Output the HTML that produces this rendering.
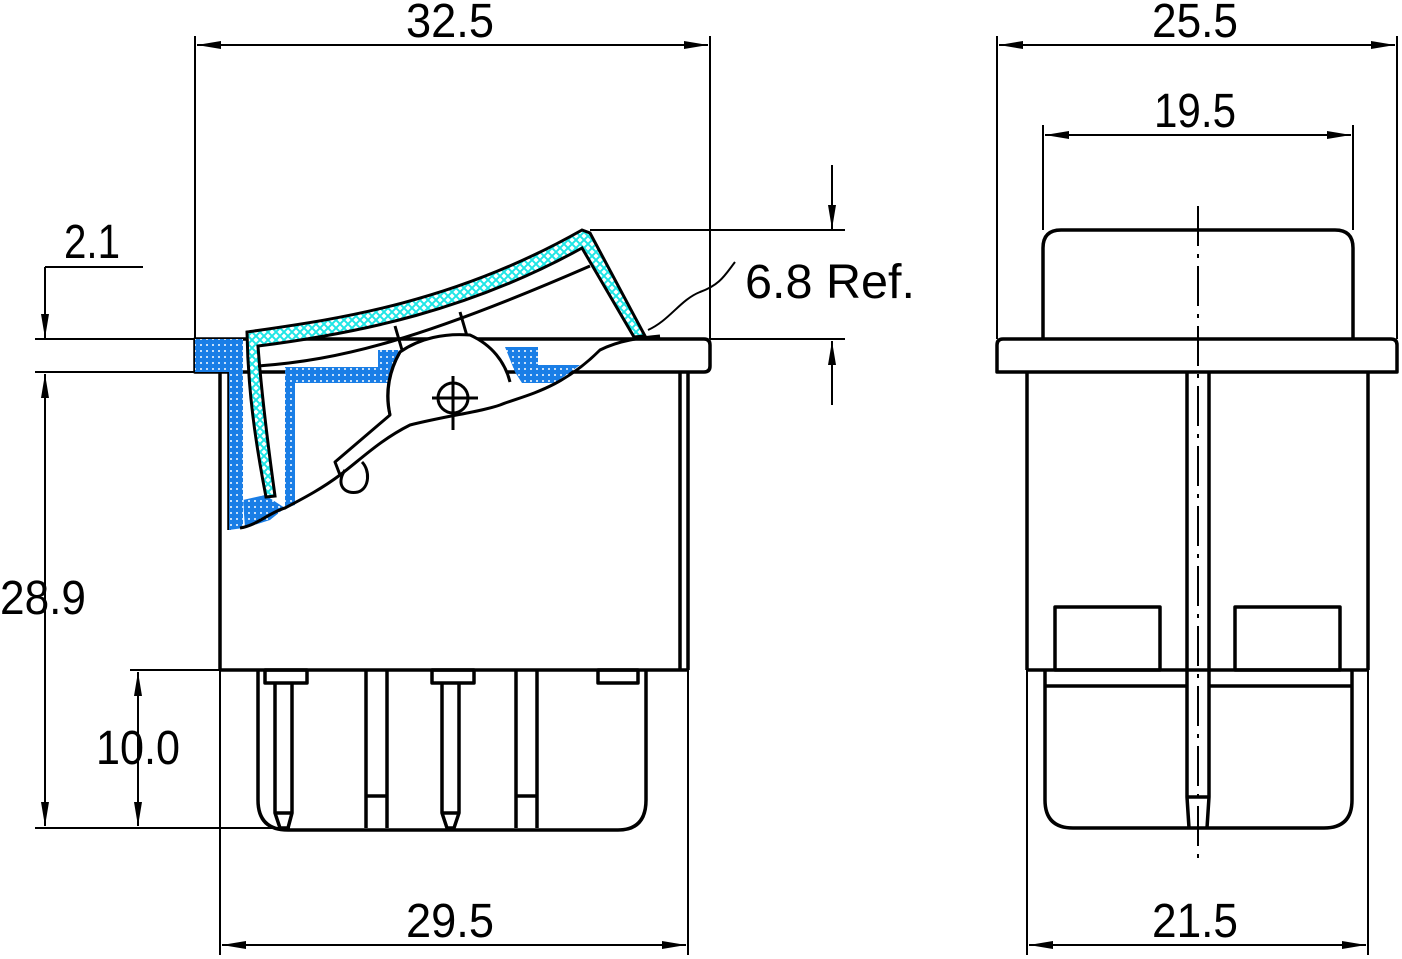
<!DOCTYPE html>
<html><head><meta charset="utf-8"><style>
html,body{margin:0;padding:0;background:#fff;}
svg{display:block;}
text{font-family:"Liberation Sans",sans-serif;font-size:48px;fill:#000;}
</style></head><body>
<svg width="1402" height="959" viewBox="0 0 1402 959" xmlns="http://www.w3.org/2000/svg">
<defs>
<marker id="a" viewBox="0 0 24 8" refX="24" refY="4" markerWidth="24" markerHeight="8" markerUnits="userSpaceOnUse" orient="auto-start-reverse"><path d="M0,0 L24,4 L0,8 Z" fill="#000"/></marker>
<pattern id="dots" width="6" height="6" patternUnits="userSpaceOnUse"><rect width="6" height="6" fill="#1a7ee6"/><circle cx="3" cy="3" r="1" fill="#fff"/></pattern>
<pattern id="hatch" width="8" height="8" patternUnits="userSpaceOnUse"><rect width="8" height="8" fill="#fff"/><path d="M0,0 L8,8 M8,0 L0,8" stroke="#1fe6e6" stroke-width="2"/></pattern>
</defs>
<g fill="none" stroke="#000" stroke-width="2">
<line x1="195" y1="36" x2="195" y2="339"/>
<line x1="710" y1="36" x2="710" y2="339"/>
<line x1="197" y1="45" x2="708" y2="45" marker-start="url(#a)" marker-end="url(#a)"/>
<line x1="35" y1="339" x2="195" y2="339"/>
<line x1="35" y1="372" x2="195" y2="372"/>
<line x1="45" y1="267" x2="143" y2="267"/>
<line x1="45" y1="267" x2="45" y2="338" marker-end="url(#a)"/>
<line x1="45" y1="374" x2="45" y2="826" marker-start="url(#a)" marker-end="url(#a)"/>
<line x1="35" y1="828" x2="290" y2="828"/>
<line x1="130" y1="670" x2="220" y2="670"/>
<line x1="138" y1="672" x2="138" y2="826" marker-start="url(#a)" marker-end="url(#a)"/>
<line x1="220" y1="670" x2="220" y2="955"/>
<line x1="688" y1="670" x2="688" y2="955"/>
<line x1="222" y1="945" x2="686" y2="945" marker-start="url(#a)" marker-end="url(#a)"/>
<line x1="590" y1="230" x2="845" y2="230"/>
<line x1="710" y1="339" x2="845" y2="339"/>
<line x1="832" y1="165" x2="832" y2="229" marker-end="url(#a)"/>
<line x1="832" y1="405" x2="832" y2="341" marker-end="url(#a)"/>
<path d="M648,330 C670,320 680,300 700,292 C720,285 725,275 735,262"/>
</g>
<g fill="none" stroke="#000" stroke-width="3.5" stroke-linejoin="round">
<path d="M195,339 H704 Q710,339 710,345 V366 Q710,372 704,372 H195 Z" fill="#fff"/>
<line x1="220" y1="372" x2="220" y2="670"/>
<line x1="229" y1="372" x2="229" y2="530"/>
<line x1="680" y1="372" x2="680" y2="670"/>
<line x1="688" y1="372" x2="688" y2="670"/>
<line x1="220" y1="670" x2="688" y2="670"/>
<path d="M258,670 V800 Q258,830 288,830 H618 Q646,830 646,800 V670"/>
<rect x="265" y="670" width="42" height="13"/>
<path d="M275,683 V813 L280,828 H288 L292,813 V683"/>
<line x1="275" y1="813" x2="292" y2="813"/>
<rect x="432" y="670" width="42" height="13"/>
<path d="M442,683 V813 L447,828 H454 L459,813 V683"/>
<line x1="442" y1="813" x2="459" y2="813"/>
<path d="M366,670 V828 M387,670 V828 M366,796 H387"/>
<path d="M516,670 V828 M537,670 V828 M516,796 H537"/>
<rect x="598" y="670" width="40" height="13"/>
</g>
<!-- rocker section -->
<path d="M195,339 H243 V372 H243 V528 L229,530 V372 H195 Z" fill="url(#dots)"/>
<path d="M285,367 H378 V350 H400 L405,360 L395,383 H295 V505 L285,508 Z" fill="url(#dots)"/>
<path d="M505,347 H538 V365 H580 L555,383 H522 L515,372 Z" fill="url(#dots)"/>
<path d="M243,500 L265,495 L285,508 L270,520 L245,528 Z" fill="url(#dots)"/>
<path d="M247,332 C330,320 450,305 582,230 L590,233 L645,336 L634,337 L582,248 C470,310 360,333 258,346 C262,400 270,460 275,496 L266,497 C255,440 248,390 247,332 Z" fill="url(#hatch)" stroke="#000" stroke-width="3"/>
<g fill="none" stroke="#000" stroke-width="3" stroke-linejoin="round">
<path d="M258,366 C340,360 420,340 590,266"/>
<path d="M395,326 L402,350 M460,312 L467,336"/>
<path d="M390,415 C385,395 388,372 400,352 C420,338 445,333 470,335 C492,345 505,362 510,382" fill="#fff"/>
<path d="M400,352 C390,370 385,390 390,415 L335,462 L340,475 C360,460 380,440 410,425 C450,415 480,412 500,405 C525,395 560,390 600,350 C620,340 640,338 660,336"/>
<path d="M340,475 C320,490 300,500 285,508 C270,512 258,525 240,528"/>
<circle cx="453" cy="398" r="15"/>
<path d="M432,398 H478 M453,376 V430"/>
<path d="M345,470 C335,485 345,495 358,492 C370,488 370,470 362,462"/>
</g>
<!-- RIGHT VIEW -->
<g fill="none" stroke="#000" stroke-width="2">
<line x1="997" y1="36" x2="997" y2="339"/>
<line x1="1397" y1="36" x2="1397" y2="339"/>
<line x1="999" y1="45" x2="1395" y2="45" marker-start="url(#a)" marker-end="url(#a)"/>
<line x1="1043" y1="125" x2="1043" y2="230"/>
<line x1="1353" y1="125" x2="1353" y2="230"/>
<line x1="1045" y1="135" x2="1351" y2="135" marker-start="url(#a)" marker-end="url(#a)"/>
<line x1="1027" y1="670" x2="1027" y2="955"/>
<line x1="1368" y1="670" x2="1368" y2="955"/>
<line x1="1029" y1="945" x2="1366" y2="945" marker-start="url(#a)" marker-end="url(#a)"/>
<line x1="1198" y1="206" x2="1198" y2="865" stroke-dasharray="40,8,4,8"/>
</g>
<g fill="none" stroke="#000" stroke-width="3.5" stroke-linejoin="round">
<path d="M1043,339 V248 Q1043,230 1061,230 H1335 Q1353,230 1353,248 V339"/>
<path d="M997,345 Q997,339 1003,339 H1391 Q1397,339 1397,345 V372 H997 Z"/>
<line x1="1027" y1="372" x2="1027" y2="670"/>
<line x1="1368" y1="372" x2="1368" y2="670"/>
<line x1="1027" y1="670" x2="1368" y2="670"/>
<rect x="1055" y="607" width="105" height="63"/>
<rect x="1235" y="607" width="105" height="63"/>
<path d="M1045,670 V800 Q1045,828 1073,828 H1324 Q1352,828 1352,800 V670"/>
<line x1="1045" y1="686" x2="1187" y2="686"/>
<line x1="1209" y1="686" x2="1352" y2="686"/>
<path d="M1187,372 V797 L1189,828 M1209,372 V797 L1207,828 M1187,797 H1209"/>
</g>
<text x="406" y="37" textLength="88" lengthAdjust="spacingAndGlyphs">32.5</text>
<text x="64" y="258" textLength="56" lengthAdjust="spacingAndGlyphs">2.1</text>
<text x="0" y="614" textLength="86" lengthAdjust="spacingAndGlyphs">28.9</text>
<text x="96" y="764" textLength="84" lengthAdjust="spacingAndGlyphs">10.0</text>
<text x="406" y="937" textLength="88" lengthAdjust="spacingAndGlyphs">29.5</text>
<text x="745" y="298" textLength="170" lengthAdjust="spacingAndGlyphs">6.8 Ref.</text>
<text x="1152" y="37" textLength="86" lengthAdjust="spacingAndGlyphs">25.5</text>
<text x="1154" y="127" textLength="82" lengthAdjust="spacingAndGlyphs">19.5</text>
<text x="1152" y="937" textLength="86" lengthAdjust="spacingAndGlyphs">21.5</text>
</svg>
</body></html>
